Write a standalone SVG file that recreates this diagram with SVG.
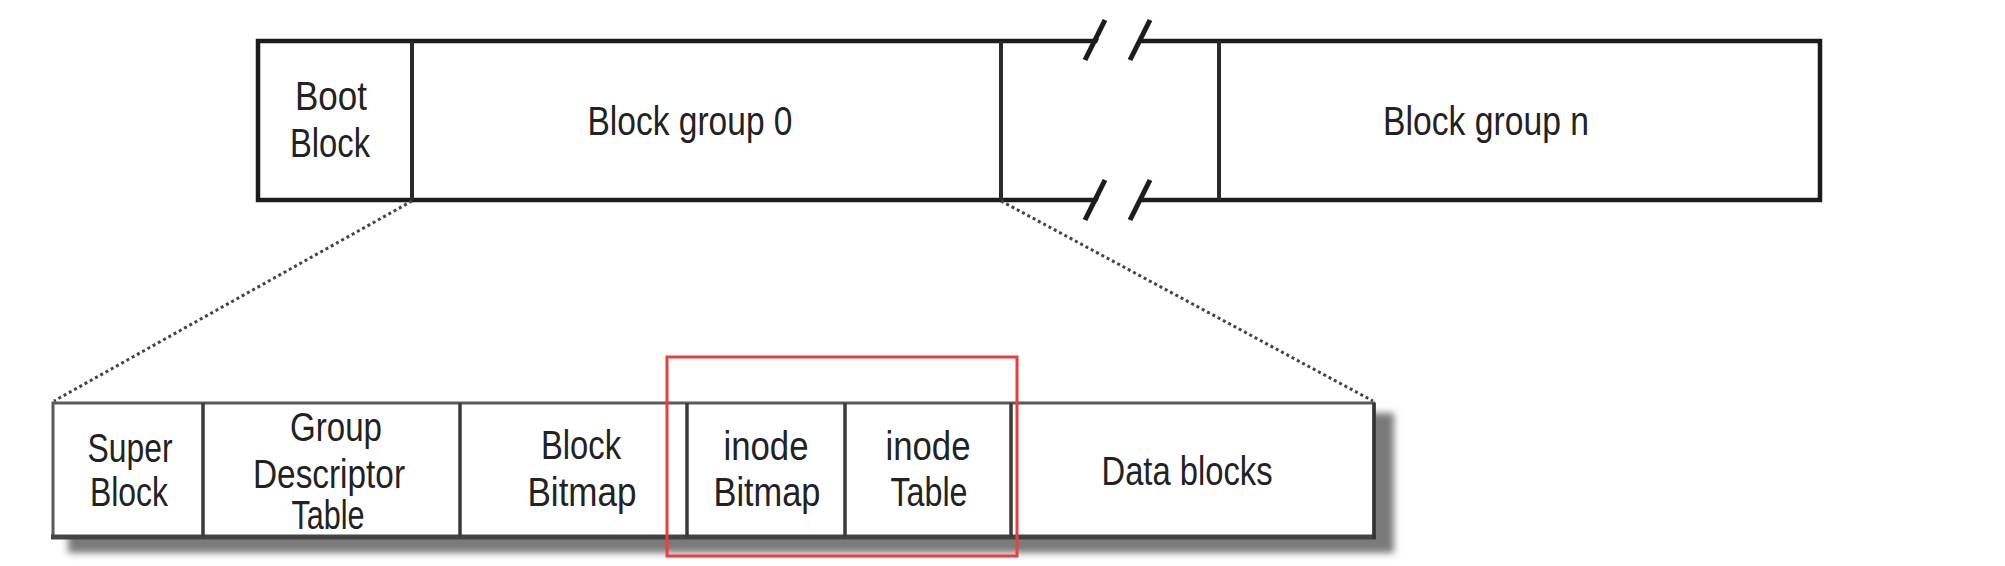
<svg xmlns="http://www.w3.org/2000/svg" width="2005" height="566" viewBox="0 0 2005 566">
<style>
.t{font-family:"Liberation Sans",Arial,sans-serif;font-size:40px;fill:#222;text-anchor:middle}
.top{fill:#fff;stroke:#1c1c1c;stroke-width:4.5}
.bot{fill:#fff;stroke:#5a5a5a;stroke-width:3}
.div{stroke:#2a2a2a;stroke-width:4}
.bdiv{stroke:#3a3a3a;stroke-width:3.5}
.dot{fill:none;stroke:#444;stroke-width:3;stroke-dasharray:3 3}
.slash{stroke:#1c1c1c;stroke-width:5;stroke-linecap:butt}
</style>
<defs>
<filter id="blur" x="-5%" y="-20%" width="110%" height="140%"><feGaussianBlur stdDeviation="3.5"/></filter>
</defs>
<rect width="2005" height="566" fill="#fff"/>

<g id="top-bar">
<rect class="top" x="258" y="41" width="1562" height="159"/>
</g>
<g id="boot-block">
<line class="div" x1="412" y1="41" x2="412" y2="200"/>
<text class="t" x="331" y="110" textLength="72" lengthAdjust="spacingAndGlyphs">Boot</text>
<text class="t" x="330" y="157" textLength="80" lengthAdjust="spacingAndGlyphs">Block</text>
</g>
<g id="block-group-0">
<line class="div" x1="1001" y1="41" x2="1001" y2="200"/>
<text class="t" x="690" y="135" textLength="205" lengthAdjust="spacingAndGlyphs">Block group 0</text>
</g>
<g id="gap">
<polygon points="1088,62 1108,20 1150,20 1130,62" fill="#fff"/>
<polygon points="1088,221 1108,179 1150,179 1130,221" fill="#fff"/>
<line class="slash" x1="1085" y1="60" x2="1105" y2="20"/>
<line class="slash" x1="1130" y1="60" x2="1150" y2="20"/>
<line class="slash" x1="1085" y1="220" x2="1105" y2="180"/>
<line class="slash" x1="1130" y1="220" x2="1150" y2="180"/>
<line class="div" x1="1219" y1="41" x2="1219" y2="200"/>
</g>
<g id="block-group-n">
<text class="t" x="1486" y="135" textLength="206" lengthAdjust="spacingAndGlyphs">Block group n</text>
</g>

<g id="connectors">
<line class="dot" x1="412" y1="201" x2="54" y2="401"/>
<line class="dot" x1="1001" y1="201" x2="1373" y2="401"/>
</g>

<g id="bottom-bar">
<rect x="68" y="413" width="1326" height="140" fill="#7a7a7a" filter="url(#blur)"/>
<rect class="bot" x="53" y="403" width="1321" height="134"/>
<line x1="51" y1="537" x2="1376" y2="537" stroke="#444" stroke-width="5"/>
<line x1="1374" y1="403" x2="1374" y2="539" stroke="#333" stroke-width="3.5"/>
</g>
<g id="super-block">
<line class="bdiv" x1="203" y1="403" x2="203" y2="537"/>
<text class="t" x="130" y="462" textLength="85" lengthAdjust="spacingAndGlyphs">Super</text>
<text class="t" x="129" y="506" textLength="78" lengthAdjust="spacingAndGlyphs">Block</text>
</g>
<g id="group-descriptor-table">
<line class="bdiv" x1="460" y1="403" x2="460" y2="537"/>
<text class="t" x="336" y="441" textLength="92" lengthAdjust="spacingAndGlyphs">Group</text>
<text class="t" x="329" y="488" textLength="152" lengthAdjust="spacingAndGlyphs">Descriptor</text>
<text class="t" x="328" y="529" textLength="73" lengthAdjust="spacingAndGlyphs">Table</text>
</g>
<g id="block-bitmap">
<line class="bdiv" x1="687" y1="403" x2="687" y2="537"/>
<text class="t" x="581" y="459" textLength="80" lengthAdjust="spacingAndGlyphs">Block</text>
<text class="t" x="582" y="506" textLength="109" lengthAdjust="spacingAndGlyphs">Bitmap</text>
</g>
<g id="inode-bitmap">
<line class="bdiv" x1="845" y1="403" x2="845" y2="537"/>
<text class="t" x="766" y="460" textLength="85" lengthAdjust="spacingAndGlyphs">inode</text>
<text class="t" x="767" y="506" textLength="107" lengthAdjust="spacingAndGlyphs">Bitmap</text>
</g>
<g id="inode-table">
<line class="bdiv" x1="1011" y1="403" x2="1011" y2="537"/>
<text class="t" x="928" y="460" textLength="85" lengthAdjust="spacingAndGlyphs">inode</text>
<text class="t" x="929" y="506" textLength="77" lengthAdjust="spacingAndGlyphs">Table</text>
</g>
<g id="data-blocks">
<text class="t" x="1187" y="485" textLength="171" lengthAdjust="spacingAndGlyphs">Data blocks</text>
</g>

<g id="highlight">
<rect x="667" y="357" width="350" height="199" fill="none" stroke="#f03c3c" stroke-width="3"/>
</g>
</svg>
